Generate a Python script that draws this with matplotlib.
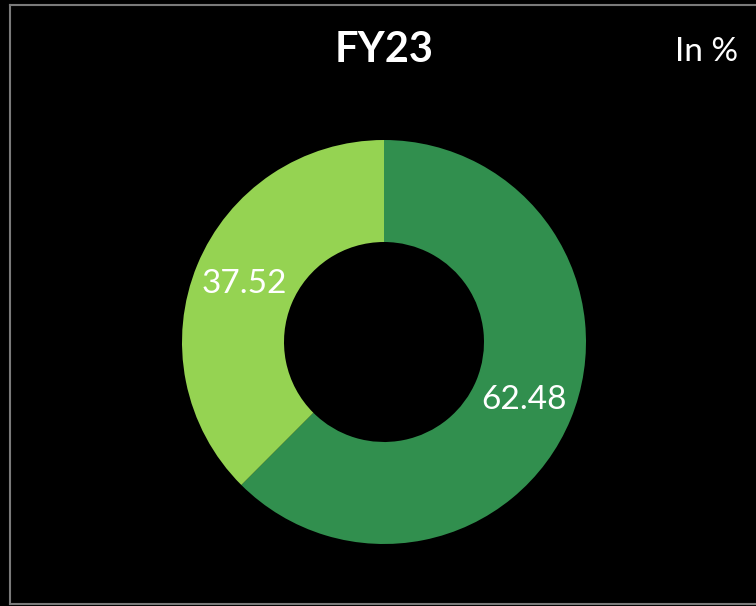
import matplotlib

matplotlib.use("Agg")
import matplotlib.pyplot as plt

# data
segments = ["Segment A", "Segment B"]
shares = [62.48, 37.52]
labels = ["62.48", "37.52"]
title = "FY23"
unit_note = "In %"

_BG = "#000000"
_COLORS = ["#318f4e", "#95d352"]
_BORDER = "#7a7a7a"
_FONT = ["Lato", "DejaVu Sans"]

W, H = 756, 606
fig = plt.figure(figsize=(W / 100, H / 100), dpi=100)
fig.patch.set_facecolor(_BG)
ax = fig.add_axes([0, 0, 1, 1])
ax.set_facecolor(_BG)
ax.set_xlim(0, W)
ax.set_ylim(0, H)
ax.set_aspect("equal")
ax.axis("off")

# frame lines of the slide panel
ax.plot([10, 10], [H - 5, H - 604], color=_BORDER, linewidth=1.5)
ax.plot([10, W], [H - 5, H - 5], color=_BORDER, linewidth=1.5)
ax.plot([10, W], [H - 604, H - 604], color=_BORDER, linewidth=1.5)

radius = 202
hole = 100
wedges, _, autotexts = ax.pie(
    shares,
    colors=_COLORS,
    startangle=90,
    counterclock=False,
    center=(384, H - 342),
    radius=radius,
    wedgeprops=dict(width=radius - hole, linewidth=0),
    autopct=lambda p: "",
    pctdistance=(radius + hole) / 2 / radius,
    frame=True,
)
for t, lab in zip(autotexts, labels):
    t.set_text(lab)
    t.set_color("white")
    t.set_fontsize(24)
    t.set_family(_FONT)

ax.set_xlim(0, W)
ax.set_ylim(0, H)
ax.axis("off")

fig.text(384 / W, 1 - 50 / H, title, color="white", fontsize=30, fontweight="bold",
         family=_FONT, ha="center", va="center")
fig.text(707 / W, 1 - 52 / H, unit_note, color="white", fontsize=24,
         family=_FONT, ha="center", va="center")

fig.savefig("out.png", dpi=100, facecolor=_BG)
